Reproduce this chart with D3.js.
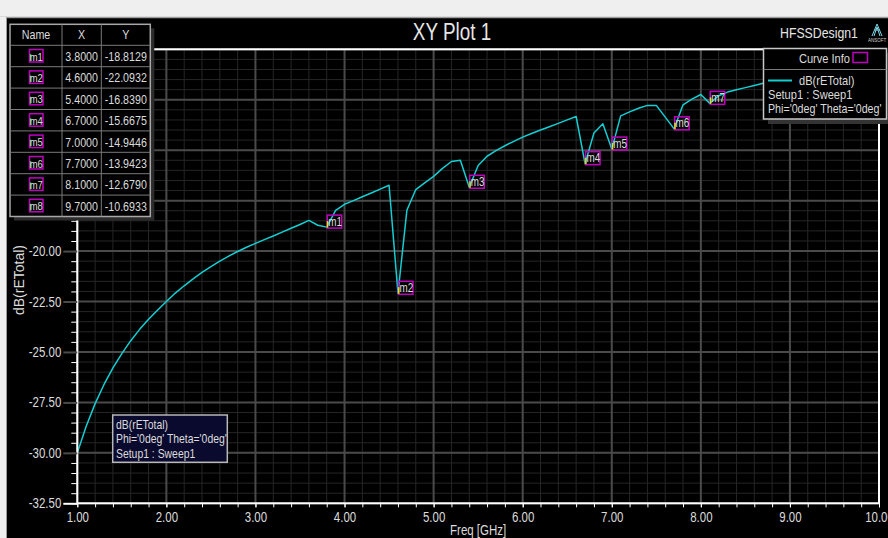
<!DOCTYPE html>
<html>
<head>
<meta charset="utf-8">
<script src="https://cdn.jsdelivr.net/npm/d3@7"></script>
<style>
  html, body { margin: 0; padding: 0; background: #000; overflow: hidden; }
  svg { display: block; }
  text { font-family: 'Liberation Sans', Arial, sans-serif; }
</style>
</head>
<body>
<svg id="chart" width="888" height="538"></svg>
<script>
// Frequency sweep (GHz) and the dB(rETotal) response
const freqGHz = [
  1.0, 1.1, 1.2, 1.3, 1.4, 1.5, 1.6, 1.7, 1.8, 1.9,
  2.0, 2.1, 2.2, 2.3, 2.4, 2.5, 2.6, 2.7, 2.8, 2.9,
  3.0, 3.1, 3.2, 3.3, 3.4, 3.5, 3.6, 3.7, 3.8, 3.9,
  4.0, 4.1, 4.2, 4.3, 4.4, 4.5, 4.6, 4.7, 4.8, 4.9,
  5.0, 5.1, 5.2, 5.3, 5.4, 5.5, 5.6, 5.7, 5.8, 5.9,
  6.0, 6.1, 6.2, 6.3, 6.4, 6.5, 6.6, 6.7, 6.8, 6.9,
  7.0, 7.1, 7.2, 7.3, 7.4, 7.5, 7.6, 7.7, 7.8, 7.9,
  8.0, 8.1, 8.2, 8.3, 8.4, 8.5, 8.6, 8.7, 8.8, 8.9,
  9.0, 9.1, 9.2, 9.3, 9.4, 9.5, 9.6, 9.7, 9.8, 9.9,
  10.0
];
const dBrETotal = [
  -30.00, -28.68, -27.56, -26.61, -25.79, -25.08, -24.44, -23.88, -23.38, -22.93,
  -22.50, -22.08, -21.72, -21.38, -21.06, -20.77, -20.50, -20.25, -20.02, -19.81,
  -19.62, -19.43, -19.25, -19.06, -18.87, -18.68, -18.48, -18.72, -18.8129, -17.98,
  -17.68, -17.50, -17.31, -17.12, -16.93, -16.74, -22.0932, -17.98, -16.95, -16.62,
  -16.30, -15.90, -15.56, -15.50, -16.8390, -15.76, -15.30, -15.02, -14.78, -14.56,
  -14.35, -14.17, -14.00, -13.84, -13.67, -13.50, -13.33, -15.6675, -14.15, -13.69,
  -14.9446, -13.30, -13.10, -12.92, -12.78, -12.78, -13.36, -13.9423, -12.75, -12.47,
  -12.24, -12.6790, -12.30, -12.12, -12.00, -11.90, -11.79, -11.68, -11.56, -11.45,
  -11.35, -11.25, -11.15, -11.05, -10.95, -10.85, -10.77, -10.6933, -10.62, -10.55,
  -10.48
];

// Marker table
const markerNames = ["m1", "m2", "m3", "m4", "m5", "m6", "m7", "m8"];
const markerFreq  = [3.8, 4.6, 5.4, 6.7, 7.0, 7.7, 8.1, 9.7];
const markerDb    = [-18.8129, -22.0932, -16.8390, -15.6675, -14.9446, -13.9423, -12.6790, -10.6933];

// Axis ticks
const xTickValues = [1, 2, 3, 4, 5, 6, 7, 8, 9, 10];
const yTickValues = [-32.5, -30, -27.5, -25, -22.5, -20, -17.5, -15, -12.5, -10];

// Text
const plotTitle = "XY Plot 1";
const designName = "HFSSDesign1";
const xAxisTitle = "Freq [GHz]";
const yAxisTitle = "dB(rETotal)";
const traceName = "dB(rETotal)";
const sweepName = "Setup1 : Sweep1";
const variationName = "Phi='0deg' Theta='0deg'";

const W = 888, H = 538;
const plot = { left: 77.3, right: 879, top: 49.3, bottom: 503.3 };
const LIGHT = "#dcdcdc";
const CYAN = "#13cfd3";
const MAGENTA = "#c000c0";

const svg = d3.select("#chart");
const x = d3.scaleLinear().domain([1, 10]).range([plot.left, plot.right]);
const y = d3.scaleLinear().domain([-32.5, -10]).range([plot.bottom, plot.top]);

// Marker table geometry (the table floats over the upper-left of the plot)
const tbl = { x: 10, y: 24.3, colX: [10, 62, 101.3, 150.3], headH: 21, rowH: 21.4 };
const tableBottom = tbl.y + tbl.headH + tbl.rowH * markerNames.length;

// Window background and frame
svg.append("rect").attr("width", W).attr("height", H).attr("fill", "#000");
svg.append("rect").attr("x", 0).attr("y", 0).attr("width", W).attr("height", 17).attr("fill", "#efefef");
svg.append("line").attr("x1", 0).attr("x2", W).attr("y1", 17.5).attr("y2", 17.5)
  .attr("stroke", "#9c9c9c").attr("stroke-width", 1.5);
svg.append("rect").attr("x", 0).attr("y", 17).attr("width", 6).attr("height", H - 17).attr("fill", "#efefef");
svg.append("line").attr("x1", 6.5).attr("x2", 6.5).attr("y1", 17).attr("y2", H)
  .attr("stroke", "#9c9c9c").attr("stroke-width", 1);

// Grid
const grid = svg.append("g");
const minorX = d3.range(0, 46).map(i => 1 + i * 0.2);
const minorY = d3.range(0, 46).map(i => -32.5 + i * 0.5);
grid.selectAll(".mx").data(minorX).join("line")
  .attr("x1", d => x(d)).attr("x2", d => x(d)).attr("y1", plot.top).attr("y2", plot.bottom)
  .attr("stroke", "#262626").attr("stroke-width", 1);
grid.selectAll(".my").data(minorY).join("line")
  .attr("x1", plot.left).attr("x2", plot.right).attr("y1", d => y(d)).attr("y2", d => y(d))
  .attr("stroke", "#262626").attr("stroke-width", 1);
grid.selectAll(".Mx").data(xTickValues).join("line")
  .attr("x1", d => x(d)).attr("x2", d => x(d)).attr("y1", plot.top).attr("y2", plot.bottom)
  .attr("stroke", "#4a4a4a").attr("stroke-width", 2);
grid.selectAll(".My").data(yTickValues).join("line")
  .attr("x1", plot.left).attr("x2", plot.right).attr("y1", d => y(d)).attr("y2", d => y(d))
  .attr("stroke", "#4a4a4a").attr("stroke-width", 2);

// Trace
svg.append("clipPath").attr("id", "plotClip").append("rect")
  .attr("x", plot.left).attr("y", plot.top)
  .attr("width", plot.right - plot.left).attr("height", plot.bottom - plot.top);
const line = d3.line().x(i => x(freqGHz[i])).y(i => y(dBrETotal[i]));
svg.append("path")
  .attr("clip-path", "url(#plotClip)")
  .attr("d", line(d3.range(freqGHz.length)))
  .attr("fill", "none").attr("stroke", CYAN).attr("stroke-width", 1.5)
  .attr("stroke-linejoin", "round");

// Markers
const mk = svg.append("g").selectAll("g").data(markerNames).join("g")
  .attr("transform", (d, i) => `translate(${x(markerFreq[i])},${y(markerDb[i])})`);
mk.append("rect").attr("x", 0.5).attr("y", -12).attr("width", 14.5).attr("height", 13)
  .attr("fill", "none").attr("stroke", MAGENTA).attr("stroke-width", 1.5);
mk.append("line").attr("x1", 0.8).attr("x2", 0.8).attr("y1", 0.5).attr("y2", -6)
  .attr("stroke", "#e6e600").attr("stroke-width", 1.5);
mk.append("text").attr("x", 1.5).attr("y", -1.5).text(d => d)
  .attr("font-size", 12).attr("fill", LIGHT);

// Plot border
svg.append("rect").attr("x", plot.left).attr("y", plot.top)
  .attr("width", plot.right - plot.left).attr("height", plot.bottom - plot.top)
  .attr("fill", "none").attr("stroke", "#fff").attr("stroke-width", 2);

// Y axis ticks and labels
const yMinorAxis = d3.axisLeft(y).tickValues(minorY).tickSize(6).tickFormat("");
const gyMinor = svg.append("g").attr("transform", `translate(${plot.left},0)`).call(yMinorAxis);
gyMinor.select(".domain").remove();
gyMinor.selectAll("line").attr("stroke", "#fff").attr("stroke-width", 1);

const yAxis = d3.axisLeft(y).tickValues(yTickValues).tickSize(14).tickPadding(2)
  .tickFormat(d => d.toFixed(2));
const gy = svg.append("g").attr("transform", `translate(${plot.left},0)`).call(yAxis);
gy.select(".domain").remove();
gy.selectAll("line").attr("stroke", (d) => d === -32.5 ? "#fff" : "#4a4a4a").attr("stroke-width", 2);
gy.selectAll("text").attr("fill", LIGHT).attr("font-size", 14);
// labels under the marker table are hidden by it
gy.selectAll(".tick").filter(d => y(d) < tableBottom + 6).select("text").remove();

// X axis ticks and labels
const xMinorAxis = d3.axisBottom(x).tickValues(minorX).tickSize(4).tickFormat("");
const gxMinor = svg.append("g").attr("transform", `translate(0,${plot.bottom})`).call(xMinorAxis);
gxMinor.select(".domain").remove();
gxMinor.selectAll("line").attr("stroke", "#fff").attr("stroke-width", 1);

const xAxis = d3.axisBottom(x).tickValues(xTickValues).tickSize(4).tickPadding(5)
  .tickFormat(d => d.toFixed(2));
const gx = svg.append("g").attr("transform", `translate(0,${plot.bottom})`).call(xAxis);
gx.select(".domain").remove();
gx.selectAll("line").attr("stroke", "#fff").attr("stroke-width", 1);
gx.selectAll("text").attr("fill", LIGHT).attr("font-size", 14);

// Axis titles
svg.append("text").attr("x", (plot.left + plot.right) / 2).attr("y", 535)
  .attr("text-anchor", "middle").attr("font-size", 14).attr("fill", LIGHT).text(xAxisTitle);
svg.append("text").attr("class", "wide").attr("transform", "translate(24,280) rotate(-90)")
  .attr("text-anchor", "middle").attr("font-size", 14).attr("fill", LIGHT).text(yAxisTitle);

// Title and design name
svg.append("text").attr("x", 452).attr("y", 40).attr("text-anchor", "middle")
  .attr("font-size", 23).attr("fill", "#e6e6e6").text(plotTitle);
svg.append("text").attr("x", 780).attr("y", 38)
  .attr("font-size", 15).attr("fill", "#e6e6e6").text(designName);

// Vendor mark
const logo = svg.append("g").attr("transform", "translate(877,24)");
logo.append("path").attr("d", "M0,0 L-5,12 M0,0 L5,12 M-2.5,6 L2.5,6 M0,3 L-3,12 M0,3 L3,12")
  .attr("stroke", "#7fd7e6").attr("stroke-width", 1).attr("fill", "none");
logo.append("text").attr("class", "wide").attr("x", 0).attr("y", 18).attr("text-anchor", "middle")
  .attr("font-size", 4.5).attr("fill", "#cfcfcf").text("ANSOFT");

// Marker table
const tableG = svg.append("g");
tableG.append("rect").attr("x", tbl.x + 4).attr("y", tbl.y + 4)
  .attr("width", tbl.colX[3] - tbl.x).attr("height", tableBottom - tbl.y)
  .attr("fill", "#2c2c2c");
tableG.append("rect").attr("x", tbl.x).attr("y", tbl.y)
  .attr("width", tbl.colX[3] - tbl.x).attr("height", tableBottom - tbl.y)
  .attr("fill", "#000").attr("stroke", "#a8a8a8").attr("stroke-width", 1.5);
[tbl.colX[1], tbl.colX[2]].forEach(cx => {
  tableG.append("line").attr("x1", cx).attr("x2", cx).attr("y1", tbl.y).attr("y2", tableBottom)
    .attr("stroke", "#7a7a7a").attr("stroke-width", 1);
});
d3.range(0, markerNames.length).forEach(i => {
  const ly = tbl.y + tbl.headH + tbl.rowH * i;
  tableG.append("line").attr("x1", tbl.x).attr("x2", tbl.colX[3]).attr("y1", ly).attr("y2", ly)
    .attr("stroke", "#7a7a7a").attr("stroke-width", 1);
});
const colMid = i => (tbl.colX[i] + tbl.colX[i + 1]) / 2;
["Name", "X", "Y"].forEach((h, i) => {
  tableG.append("text").attr("x", colMid(i)).attr("y", tbl.y + 15)
    .attr("text-anchor", "middle").attr("font-size", 13).attr("fill", LIGHT).text(h);
});
markerNames.forEach((name, i) => {
  const cy = tbl.y + tbl.headH + tbl.rowH * i + tbl.rowH / 2;
  const cell = tableG.append("g").attr("transform", `translate(${colMid(0)},${cy})`);
  cell.append("rect").attr("x", -6.5).attr("y", -6.5).attr("width", 13.5).attr("height", 12.5)
    .attr("fill", "none").attr("stroke", MAGENTA).attr("stroke-width", 1.5);
  cell.append("line").attr("x1", -5.5).attr("x2", -5.5).attr("y1", -2).attr("y2", 5)
    .attr("stroke", "#3cc83c").attr("stroke-width", 1.5);
  cell.append("text").attr("x", 0.3).attr("y", 4.5).attr("text-anchor", "middle")
    .attr("font-size", 11.5).attr("fill", LIGHT).text(name);
  tableG.append("text").attr("x", colMid(1)).attr("y", cy + 5).attr("text-anchor", "middle")
    .attr("font-size", 13).attr("fill", LIGHT).text(markerFreq[i].toFixed(4));
  tableG.append("text").attr("x", colMid(2)).attr("y", cy + 5).attr("text-anchor", "middle")
    .attr("font-size", 13).attr("fill", LIGHT).text(markerDb[i].toFixed(4));
});

// Curve info legend
const lg = svg.append("g");
lg.append("rect").attr("x", 768).attr("y", 53).attr("width", 124).attr("height", 71).attr("fill", "#333");
lg.append("rect").attr("x", 763.5).attr("y", 48.5).attr("width", 123).attr("height", 70.5)
  .attr("fill", "#000").attr("stroke", "#c8c8c8").attr("stroke-width", 1.5);
lg.append("line").attr("x1", 763.5).attr("x2", 886.5).attr("y1", 69.5).attr("y2", 69.5)
  .attr("stroke", "#7a7a7a").attr("stroke-width", 1);
lg.append("text").attr("x", 850).attr("y", 63).attr("text-anchor", "end")
  .attr("font-size", 13.5).attr("fill", LIGHT).text("Curve Info");
lg.append("rect").attr("x", 853).attr("y", 52.5).attr("width", 14.5).attr("height", 10)
  .attr("fill", "none").attr("stroke", MAGENTA).attr("stroke-width", 1.5);
lg.append("line").attr("x1", 768).attr("x2", 792).attr("y1", 80.5).attr("y2", 80.5)
  .attr("stroke", CYAN).attr("stroke-width", 2);
lg.append("text").attr("x", 799).attr("y", 85).attr("font-size", 13.5).attr("fill", LIGHT).text(traceName);
lg.append("text").attr("x", 768).attr("y", 98.5).attr("font-size", 13.5).attr("fill", LIGHT).text(sweepName);
lg.append("text").attr("x", 768).attr("y", 113).attr("font-size", 13).attr("fill", LIGHT).text(variationName);

// Trace note box
const nb = svg.append("g");
nb.append("rect").attr("x", 112.7).attr("y", 415).attr("width", 114.6).attr("height", 47.3)
  .attr("fill", "#0a0a2e").attr("stroke", "#b8b8b8").attr("stroke-width", 1.5);
[traceName, variationName, sweepName].forEach((t, i) => {
  nb.append("text").attr("x", 116).attr("y", 428.5 + i * 14.6)
    .attr("font-size", 12.7).attr("fill", LIGHT).text(t);
});

// The report window uses a condensed face: narrow the glyph runs to match
function condense(sel, k) {
  sel.each(function () {
    const len = this.getComputedTextLength();
    if (len > 0) {
      this.setAttribute("textLength", (len * k).toFixed(2));
      this.setAttribute("lengthAdjust", "spacingAndGlyphs");
    }
  });
}
condense(svg.selectAll("text:not(.wide)"), 0.82);
</script>
</body>
</html>
